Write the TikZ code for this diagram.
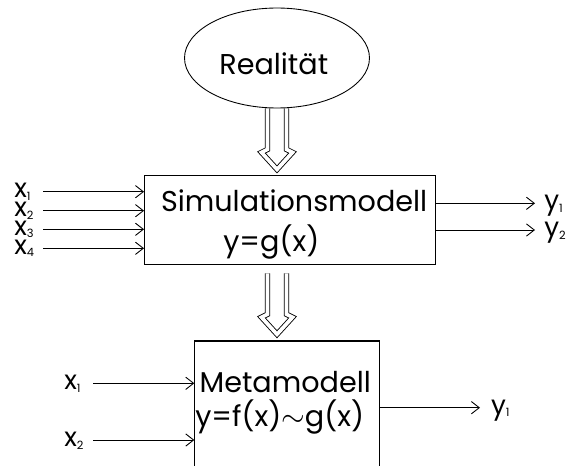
\documentclass[tikz,border=0pt]{standalone}
\usepackage{fontspec}
\setmainfont{Poppins}
\usetikzlibrary{arrows.meta, shapes.geometric, positioning}

\newcommand{\sub}[1]{\raisebox{-0.1em}{\fontsize{6.5}{7}\selectfont #1}}

\begin{document}
\begin{tikzpicture}[
        x=0.02cm, y=-0.02cm,
        every node/.style={font=\fontsize{16.3}{19}\selectfont, inner sep=0pt},
        txt/.style={anchor=base west},
        lbl/.style={anchor=base west, font=\fontsize{15}{15}\selectfont, text height=0.56em, text depth=0.1em},
        box/.style={rectangle, draw, line width=0.6pt, outer sep=0pt},
        arrow/.style={line width=0.5pt, -{Straight Barb[length=4.5pt,width=7pt]}},
        hollow/.pic={
            \draw[double, double distance=2.1pt, line width=0.5pt, line join=miter]
                (-9.5,0) -- (-9.5,41) -- (-15.5,44) -- (0,61) -- (15.5,44) -- (9.5,41) -- (9.5,0);
        }
    ]
        \useasboundingbox (0,0) rectangle (568,466);
        \clip (0,0) rectangle (568,466);

        % Reality
        \node[ellipse, draw, line width=0.5pt, minimum width=3.7cm, minimum height=2cm] (real) at (277,58) {};
        \node[txt] (realtext) at (219,75) {Realität};

        % Simulation model
        \node[box, minimum width=5.83cm, minimum height=1.772cm] (sim) at (289.75,220) {};
        \node[txt] (simname) at (160.7,211.7) {Simulationsmodell};
        \node[txt] (simeq) at (223,251) {y=g(x)};

        % Meta model
        \node[box, minimum width=3.7cm, minimum height=2.8cm] (meta) at (286.8,411) {};
        \node[txt] (metaname) at (199.3,392.7) {Metamodell};
        \node[txt] (metaeq) at (195,426.7) {y=f(x)$\sim$g(x)};

        % Hollow arrows
        \pic at (real.south) {hollow};
        \pic[yshift=-0.18cm] at (real.south |- sim.south) {hollow};

        % Inputs and outputs of the simulation model
        \foreach \i/\yy in {1/191.7, 2/210.7, 3/229.3, 4/248.3} {
            \coordinate (in\i) at (43,\yy);
            \draw[arrow] (in\i) -- (in\i -| sim.west);
            \node[lbl] (xin\i) at (14,\yy+6) {x\sub{\i}};
        }
        \foreach \i/\yy in {1/203.3, 2/230} {
            \coordinate (out\i) at (535,\yy);
            \draw[arrow] (sim.east |- out\i) -- (out\i);
            \node[lbl] (yout\i) at (544,\yy+6.5) {y\sub{\i}};
        }

        % Inputs and output of the meta model
        \foreach \i/\yy in {1/383.3, 2/440} {
            \coordinate (min\i) at (93,\yy);
            \draw[arrow] (min\i) -- (min\i -| meta.west);
            \node[lbl] (xmin\i) at (64,\yy+6.5) {x\sub{\i}};
        }
        \coordinate (mout) at (480,407.7);
        \draw[arrow] (meta.east |- mout) -- (mout);
        \node[lbl] (ymout) at (490.7,414.2) {y\sub{1}};

    \end{tikzpicture}
\end{document}
